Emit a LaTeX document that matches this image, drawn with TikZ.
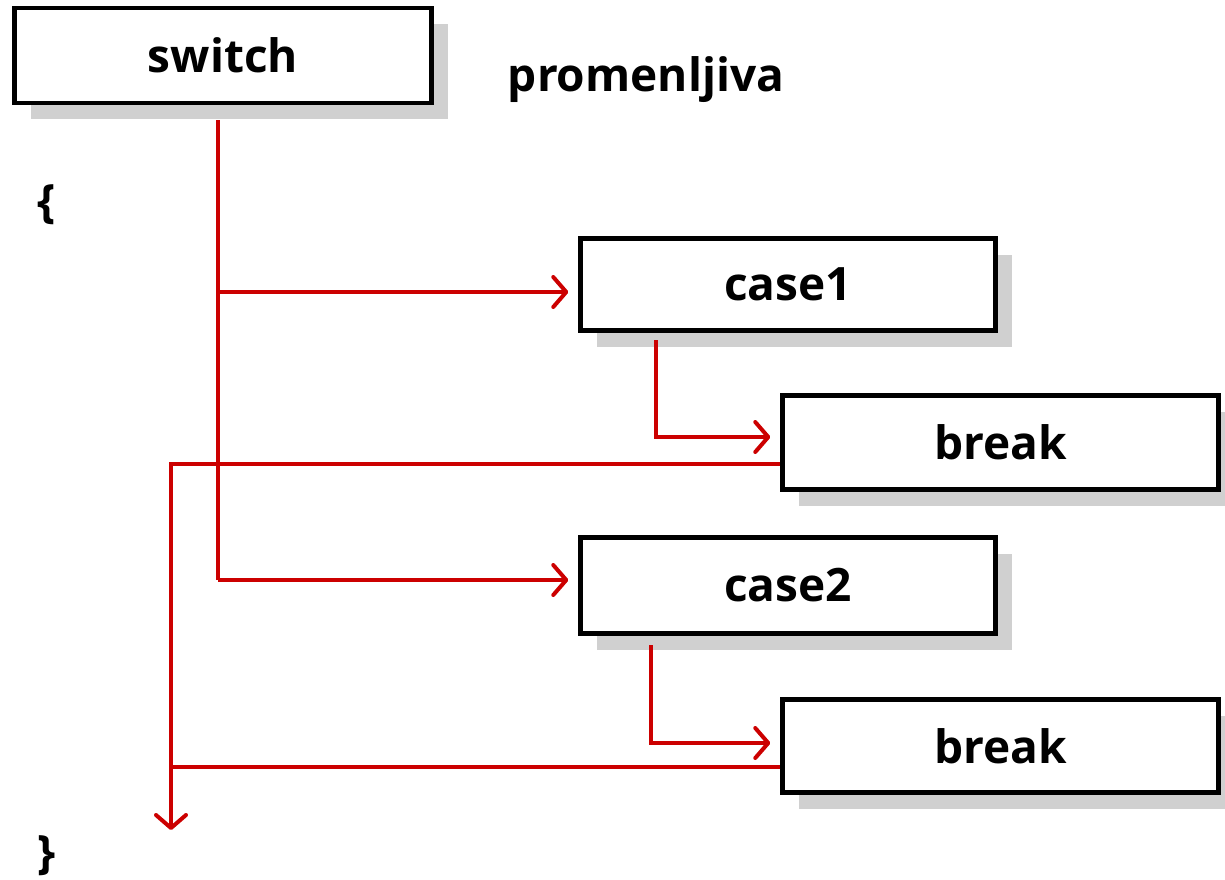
\documentclass[tikz,border=0pt]{standalone}
\usepackage{fontspec}
\setmainfont{Open Sans}
\usetikzlibrary{arrows.meta,shadows}
\definecolor{flowred}{HTML}{CC0000}
\definecolor{shadowgray}{HTML}{D0D0D0}
\tikzset{
  stmt/.style={draw=black, line width=4.5pt, fill=white, inner sep=0pt,
    font=\fontsize{46}{50}\selectfont\bfseries,
    drop shadow={shadow xshift=16pt, shadow yshift=-16pt, fill=shadowgray, opacity=1}},
  label/.style={inner sep=0pt, font=\fontsize{46}{50}\selectfont\bfseries},
  flow/.style={draw=flowred, line width=4pt},
  flowarrow/.style={flow, -{Straight Barb[length=13pt,width=30pt,round]}, shorten >=10pt},
}
\begin{document}
\begin{tikzpicture}[x=1pt,y=-1pt]
  \useasboundingbox (0,0) rectangle (1225,879);

  % statement boxes
  \node[stmt, minimum width=417pt, minimum height=95pt] (switch) at (223,55.5) {switch};
  \node[stmt, minimum width=415pt, minimum height=92pt] (case1) at (788,284.5) {case1};
  \node[stmt, minimum width=436pt, minimum height=94pt] (break1) at (1000.5,442.5) {break};
  \node[stmt, minimum width=415pt, minimum height=96pt] (case2) at (788,585.5) {case2};
  \node[stmt, minimum width=436pt, minimum height=93pt] (break2) at (1000.5,746) {break};

  % free text
  \node[label] (var) at (646,80) {promenljiva};
  \node[label] (open) at (47,205) {\{};
  \node[label] (close) at (47,856) {\}};

  % bend points of the connectors
  \coordinate (s0) at (218,120);
  \coordinate (s1) at (218,292);
  \coordinate (s2) at (218,580);
  \coordinate (c1) at (656,340);
  \coordinate (k1) at (656,437);
  \coordinate (c2) at (651,645);
  \coordinate (k2) at (651,743);
  \coordinate (r1) at (171,464);
  \coordinate (r2) at (171,767);
  \coordinate (out) at (171,830);

  % switch dispatches to the cases
  \draw[flow] (s0) -- (s2);
  \draw[flowarrow] (s1) -- (s1 -| case1.west);
  \draw[flowarrow] (s2) -- (s2 -| case2.west);

  % each case falls into its break
  \draw[flowarrow] (c1) -- (k1) -- (k1 -| break1.west);
  \draw[flowarrow] (c2) -- (k2) -- (k2 -| break2.west);

  % breaks leave the block
  \draw[flow] (r2 -| break2.west) -- (r2);
  \draw[flow, -{Straight Barb[length=13pt,width=30pt,round]}] (r1 -| break1.west) -- (r1) -- (out);
\end{tikzpicture}
\end{document}
